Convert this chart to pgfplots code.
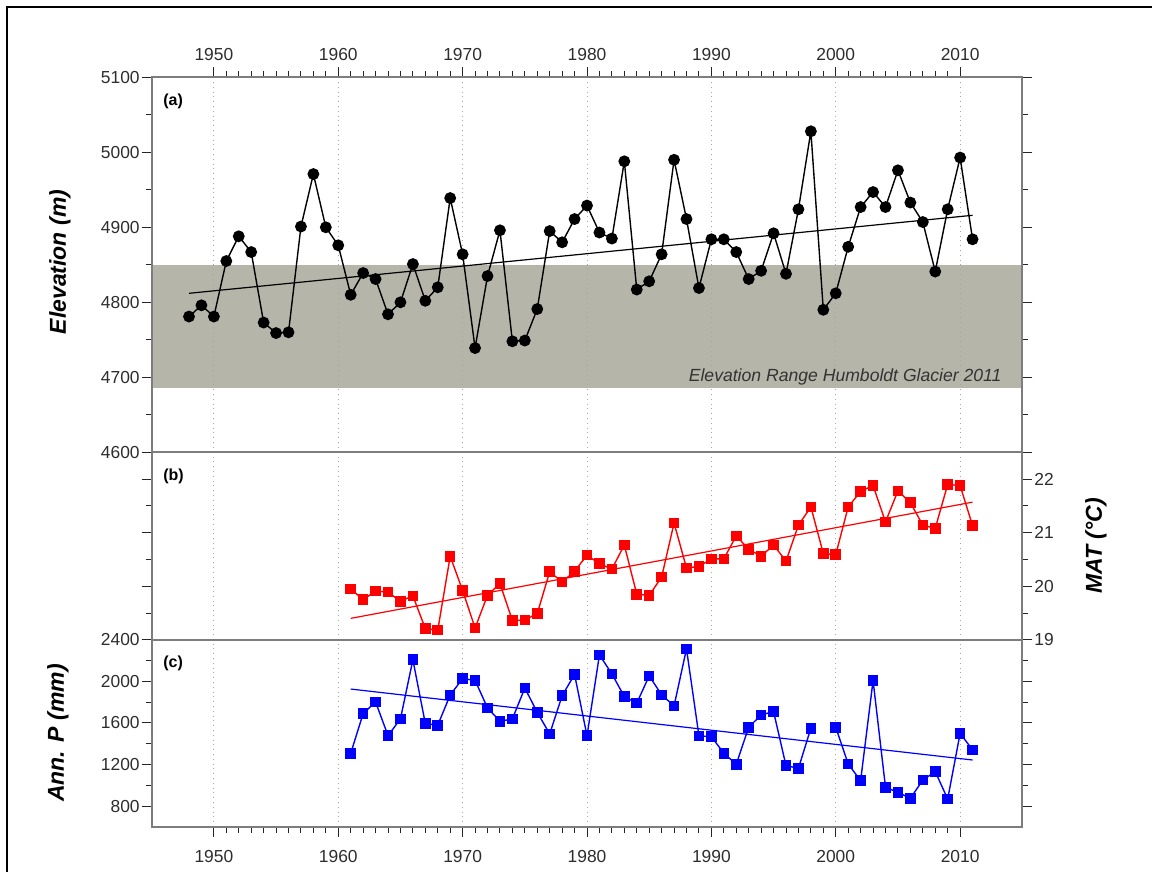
\documentclass[border=0pt]{standalone}
\usepackage{fontspec}
\setmainfont{Liberation Sans}
\usepackage{pgfplots}
\usepackage{pgfplotstable}
\pgfplotsset{compat=1.18}
\definecolor{band}{RGB}{182,181,170}
\definecolor{axgray}{RGB}{125,125,125}
\definecolor{txt}{RGB}{45,45,45}

\pgfplotstableread{
year elev
1948 4781
1949 4796
1950 4781
1951 4855
1952 4888
1953 4867
1954 4773
1955 4759
1956 4760
1957 4901
1958 4971
1959 4900
1960 4876
1961 4810
1962 4839
1963 4831
1964 4784
1965 4800
1966 4851
1967 4802
1968 4820
1969 4939
1970 4864
1971 4739
1972 4835
1973 4896
1974 4748
1975 4749
1976 4791
1977 4895
1978 4880
1979 4911
1980 4929
1981 4893
1982 4885
1983 4988
1984 4817
1985 4828
1986 4864
1987 4990
1988 4911
1989 4819
1990 4884
1991 4884
1992 4867
1993 4831
1994 4842
1995 4892
1996 4838
1997 4924
1998 5028
1999 4790
2000 4812
2001 4874
2002 4927
2003 4947
2004 4927
2005 4976
2006 4933
2007 4907
2008 4841
2009 4924
2010 4993
2011 4884
}\elevtable

\pgfplotstableread{
year mat
1961 19.95
1962 19.75
1963 19.91
1964 19.89
1965 19.72
1966 19.82
1967 19.21
1968 19.18
1969 20.56
1970 19.92
1971 19.22
1972 19.83
1973 20.05
1974 19.36
1975 19.37
1976 19.49
1977 20.27
1978 20.08
1979 20.28
1980 20.58
1981 20.42
1982 20.32
1983 20.77
1984 19.85
1985 19.83
1986 20.17
1987 21.18
1988 20.34
1989 20.37
1990 20.51
1991 20.51
1992 20.94
1993 20.69
1994 20.56
1995 20.77
1996 20.47
1997 21.14
1998 21.48
1999 20.61
2000 20.59
2001 21.48
2002 21.77
2003 21.88
2004 21.20
2005 21.78
2006 21.56
2007 21.14
2008 21.08
2009 21.90
2010 21.88
2011 21.13
}\mattable

\pgfplotstableread{
year prec
1961 1306
1962 1690
1963 1802
1964 1478
1965 1638
1966 2208
1967 1594
1968 1578
1969 1869
1970 2026
1971 2010
1972 1744
1973 1616
1974 1638
1975 1936
1976 1702
1977 1494
1978 1862
1979 2067
1980 1476
1981 2255
1982 2072
1983 1854
1984 1790
1985 2053
1986 1870
1987 1764
1988 2313
1989 1475
1990 1468
1991 1308
1992 1202
1993 1558
1994 1677
1995 1709
1996 1189
1997 1163
1998 1549
1999 nan
2000 1558
2001 1205
2002 1044
2003 2008
2004 980
2005 932
2006 874
2007 1050
2008 1131
2009 867
2010 1500
2011 1340
}\prectable

\pgfplotsset{
  panel/.style={
    scale only axis, width=435.3pt,
    xmin=1945, xmax=2015,
    anchor=north west,
    tick align=outside,
    major tick length=5pt, minor tick length=3pt,
    axis line style={draw=axgray, line width=1pt},
    tick style={draw=black!85, line width=0.5pt},
    xmajorgrids, major grid style={dotted, gray!70, line width=0.5pt},
    xtick={1950,1960,...,2010},
    /pgf/number format/1000 sep={},
    /pgf/number format/assume math mode=true,
    tick label style={font=\fontsize{8.7}{10}\selectfont, text=txt},
    yticklabel style={xshift=2.5pt},
    set layers,
    clip=false,
  },
}
\tikzset{plab/.style={anchor=north west, font=\bfseries\fontsize{8}{9}\selectfont, xshift=2.3pt, yshift=-4.6pt}}

\begin{document}
\begin{tikzpicture}[x=1pt,y=1pt]
\draw[line width=1.2pt] (3.5,-436) -- (3.5,-3.5) -- (576,-3.5);

% ---- panel (a)
\begin{axis}[panel, at={(75.85pt,-38.65pt)}, height=187.5pt,
  ymin=4600, ymax=5100, ytick={4600,4700,...,5100}, minor y tick num=1,
  minor x tick num=9, xtick pos=right, xticklabel pos=right,
  ytick pos=both, yticklabel pos=left]
\addplot[draw=none, fill=band, on layer=axis background] coordinates {(1945,4686) (2015,4686) (2015,4850) (1945,4850)};
\addplot[black, line width=0.6pt] coordinates {(1948,4812) (2011,4916)};
\addplot[black, line width=0.7pt, mark=*, mark size=2.6pt] table[x=year, y=elev] {\elevtable};
\node[anchor=east, font=\itshape\fontsize{8.8}{10}\selectfont, text=black!80] at (axis cs:2013.9,4701) {Elevation Range Humboldt Glacier 2011};
\node[plab] at (rel axis cs:0,1) {(a)};
\end{axis}

% ---- panel (b)
\begin{axis}[panel, at={(75.85pt,-226.15pt)}, height=93.75pt,
  ymin=19, ymax=22.5, ytick={19,20,21,22}, minor y tick num=1,
  xticklabels={}, xticklabel style={text opacity=0}, xtick style={draw=none},
  ytick pos=both, yticklabel pos=right, yticklabel style={xshift=-5pt}]
\addplot[red, line width=0.6pt] coordinates {(1961,19.40) (2011,21.57)};
\addplot[red, line width=0.7pt, mark=square*, mark size=2.3pt] table[x=year, y=mat] {\mattable};
\node[plab] at (rel axis cs:0,1) {(b)};
\end{axis}

% ---- panel (c)
\begin{axis}[panel, at={(75.85pt,-319.9pt)}, height=93.5pt,
  ymin=600, ymax=2400, ytick={800,1200,...,2400}, minor y tick num=1,
  minor x tick num=9, xtick pos=left, xticklabel pos=left,
  xticklabel style={yshift=-3pt},
  ytick pos=both, yticklabel pos=left, unbounded coords=jump]
\addplot[blue, line width=0.6pt] coordinates {(1961,1926) (2011,1243)};
\addplot[blue, line width=0.7pt, mark=square*, mark size=2.3pt] table[x=year, y=prec] {\prectable};
\node[plab] at (rel axis cs:0,1) {(c)};
\end{axis}

\node[rotate=90, font=\bfseries\itshape\fontsize{11.5}{13}\selectfont] at (30,-131) {Elevation (m)};
\node[rotate=90, font=\bfseries\itshape\fontsize{11.5}{13}\selectfont] at (29,-366.5) {Ann. P (mm)};
\node[rotate=90, font=\bfseries\itshape\fontsize{11.5}{13}\selectfont] at (548,-273) {MAT (°C)};
\pgfresetboundingbox
\useasboundingbox (0,0) rectangle (576,-436);
\end{tikzpicture}
\end{document}
